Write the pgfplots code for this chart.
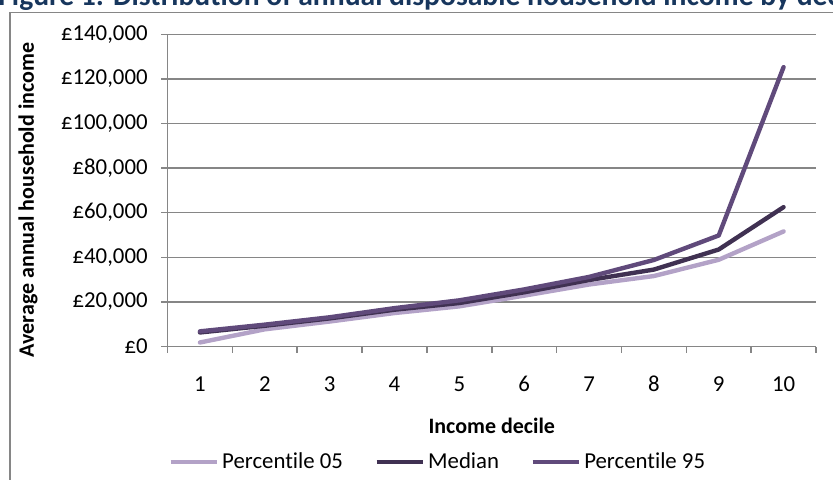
\documentclass[border=0pt]{standalone}
\usepackage{fontspec}
\setmainfont{Carlito}[Ligatures=NoCommon]
\usepackage{pgfplots}
\pgfplotsset{compat=1.18}
\definecolor{pfive}{RGB}{179,162,199}
\definecolor{pmed}{RGB}{64,49,82}
\definecolor{pnine}{RGB}{96,74,123}
\definecolor{gridgray}{RGB}{134,134,134}
\definecolor{titleblue}{RGB}{23,54,93}
\newcommand{\lbl}{\fontsize{11.4pt}{13.5pt}\selectfont}
\newcommand{\blbl}{\fontsize{11pt}{13.5pt}\selectfont\bfseries}
\begin{document}
\begin{tikzpicture}
\path[use as bounding box] (0,0) rectangle (416.5pt,-240pt);
\draw[gridgray, line width=0.75pt] (430pt,-6.35pt) -- (5pt,-6.35pt) -- (5pt,-250pt);
\node[anchor=base west, inner sep=0, font=\fontsize{14.8pt}{17pt}\selectfont\bfseries, text=titleblue] at (-1pt,-3pt) {Figure 1: Distribution of annual disposable household income by decile};
\begin{axis}[
  at={(83.75pt,-173.25pt)}, anchor=south west, scale only axis,
  width=324.25pt, height=156.1pt,
  xmin=0.5, xmax=10.5, ymin=0, ymax=140000,
  axis x line*=bottom, axis y line*=left,
  axis line style={gridgray, line width=0.75pt, -},
  xtick={1,...,10},
  minor xtick={0.5,1.5,...,10.5},
  major x tick style={draw=none},
  ytick={0,20000,...,140000},
  ymajorgrids, grid style={gridgray, line width=0.75pt},
  tick align=outside, major tick length=3pt, minor tick length=3pt,
  tick style={gridgray, line width=0.75pt},
  scaled y ticks=false,
  yticklabel={£\pgfmathprintnumber{\tick}},
  yticklabel style={font=\lbl, xshift=-3.4pt, /pgf/number format/.cd, fixed, precision=0, 1000 sep={,}, assume math mode=true},
  xticklabel style={font=\lbl, yshift=-8.4pt, /pgf/number format/assume math mode=true},
  clip=false,
  legend columns=3,
  legend style={draw=none, fill=none, at={(axis description cs:0.4187,-0.37)}, anchor=center, font=\lbl,
    /tikz/every even column/.append style={column sep=14pt}},
  legend image code/.code={\draw[#1, line cap=butt, line width=1.6pt] (0pt,0pt) -- (23pt,0pt);},
  every axis plot/.append style={line width=2.2pt, line join=round, line cap=round, mark=none},
]
\addplot[pfive] coordinates {(1,1800) (2,7700) (3,11200) (4,15000) (5,18000) (6,22800) (7,27800) (8,31600) (9,38900) (10,51600)};
\addlegendentry{Percentile 05}
\addplot[pmed] coordinates {(1,6300) (2,9300) (3,12600) (4,16500) (5,19500) (6,24300) (7,29800) (8,34500) (9,43500) (10,62500)};
\addlegendentry{Median}
\addplot[pnine] coordinates {(1,6800) (2,9800) (3,13100) (4,17200) (5,20700) (6,25600) (7,31200) (8,38800) (9,49800) (10,125300)};
\addlegendentry{Percentile 95}
\end{axis}
\node[rotate=90, font=\blbl] at (14pt,-100pt) {Average annual household income};
\node[font=\blbl] at (245.9pt,-213pt) {Income decile};
\end{tikzpicture}
\end{document}
